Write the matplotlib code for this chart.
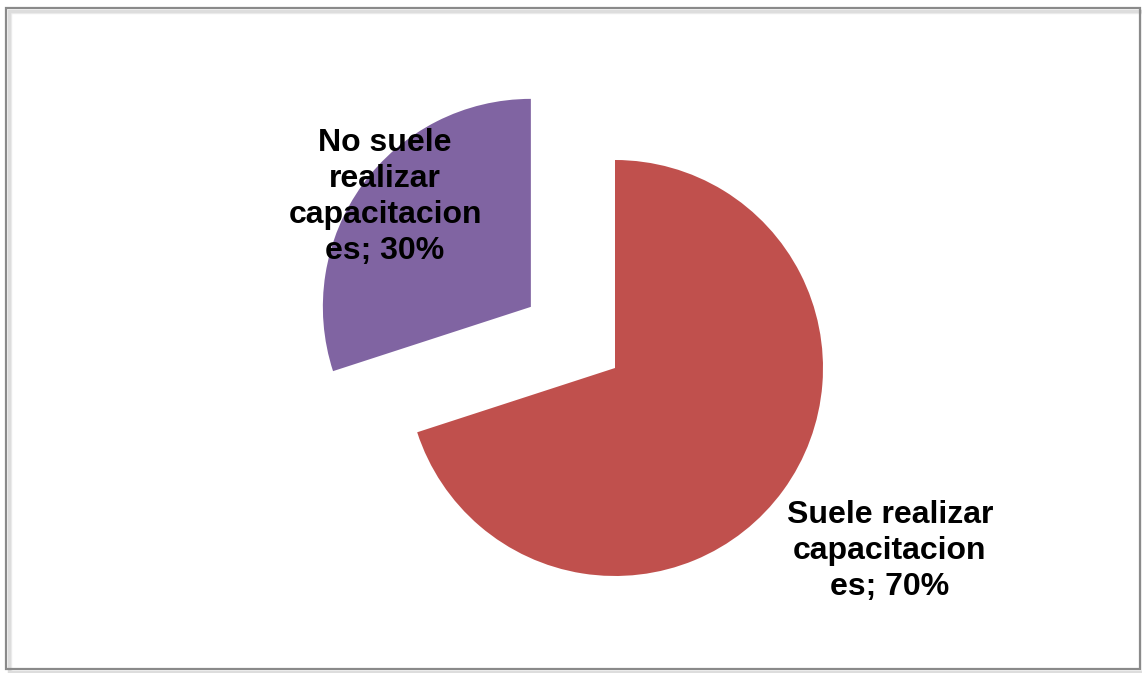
import matplotlib as mpl
mpl.use('Agg')

import matplotlib.pyplot as plt
import matplotlib.patches as mpatches

# Survey answers
labels = ["Suele realizar\ncapacitacion\nes", "No suele\nrealizar\ncapacitacion\nes"]
shares = [70, 30]
colors = ["#C0504D", "#8064A2"]
explode = [0, 0.5]  # fraction of radius

W, H = 1142, 673
radius = 208
fig = plt.figure(figsize=(W / 100, H / 100), dpi=100)
ax = fig.add_axes([0, 0, 1, 1])

# Chart frame with a soft shadow
for off, c in [(4, "#EEEEEE"), (2.5, "#DDDDDD")]:
  fig.patches.append(mpatches.Rectangle(
    ((6 + off) / W, (H - 669 - off) / H), 1134 / W, 661 / H,
    transform=fig.transFigure, facecolor='none', edgecolor=c, linewidth=2.5, zorder=0))
fig.patches.append(mpatches.Rectangle(
  (6 / W, (H - 669) / H), 1134 / W, 661 / H,
  transform=fig.transFigure, facecolor='none', edgecolor="#8A8A8A", linewidth=1.6, zorder=1))

# pie() offsets wedges in data units, so scale the explode by the radius
ax.pie(
  shares,
  colors=colors,
  explode=[e * radius for e in explode],
  startangle=90,
  counterclock=False,
  center=(615, H - 368),
  radius=radius,
  frame=True,
)
ax.set_xlim(0, W)
ax.set_ylim(0, H)
ax.set_aspect('equal')
ax.axis('off')

font = dict(family='Liberation Sans', fontsize=23, fontweight='bold',
            ha='center', va='center', linespacing=1.27, color='black')
ax.text(890, H - 551, f"{labels[0]}; {shares[0]}%", **font)
ax.text(385, H - 197, f"{labels[1]}; {shares[1]}%", **font)

plt.savefig("out.png", dpi=100)
plt.close()
